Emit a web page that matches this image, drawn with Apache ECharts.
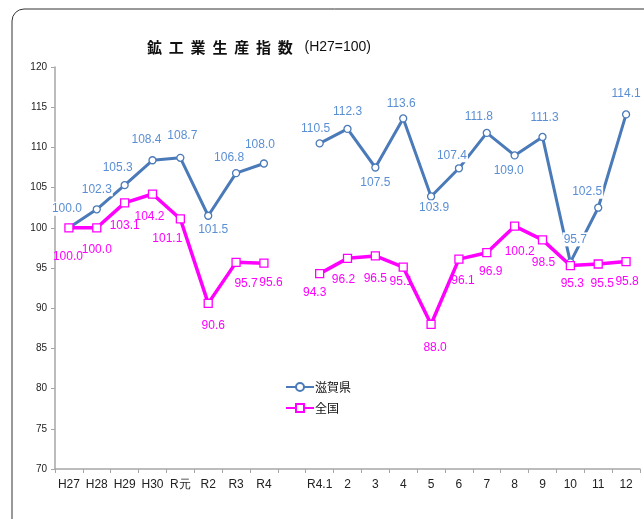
<!DOCTYPE html>
<html>
<head>
<meta charset="utf-8">
<script src="https://cdn.jsdelivr.net/npm/echarts@6/dist/echarts.min.js"></script>
<style>html,body{margin:0;padding:0;background:#fff;}#c{width:644px;height:519px;}</style>
</head>
<body>
<div id="c"></div>
<script>
var categories = ['H27','H28','H29','H30','R元','R2','R3','R4','','R4.1','2','3','4','5','6','7','8','9','10','11','12'];
var shigaValues = [100.0,102.3,105.3,108.4,108.7,101.5,106.8,108.0,null,110.5,112.3,107.5,113.6,103.9,107.4,111.8,109.0,111.3,95.7,102.5,114.1];
var zenkokuValues = [100.0,100.0,103.1,104.2,101.1,90.6,95.7,95.6,null,94.3,96.2,96.5,95.1,88.0,96.1,96.9,100.2,98.5,95.3,95.5,95.8];
var yTicks = {min:70, max:120, interval:5};

// label offsets (style only)
var shigaOffsets = [[-2,-19],[0,-20],[-7,-18],[-6,-21],[2,-22],[5,14],[-7,-15],[-4,-19],null,[-4,-15],[0,-17],[0,15],[-2,-15],[3,11],[-7,-13],[-8,-16],[-6,15],[2,-19],[5,-23],[-11,-16],[0,-21]];
var zenkokuOffsets = [[-1,29],[0,22],[0,23],[-3,23],[-13,20],[5,22],[10,21],[7,20],null,[-5,19],[-4,21],[0,23],[-2,14],[4,23],[4,22],[4,19],[5,25],[1,23],[2,18],[4,20],[1,20]];

var labelFont = "'Liberation Sans Narrow','Liberation Sans',Arial,sans-serif";

function buildData(vals, offs, color, bg) {
  return vals.map(function(v, i) {
    if (v == null) return null;
    var lab = {show:true, position:'inside', offset: offs[i], color: color,
      fontSize: 12, fontFamily: labelFont, align:'center', verticalAlign:'middle',
      formatter: function(p){ return p.value.toFixed(1); }};
    if (bg) { lab.backgroundColor = '#fff'; lab.padding = [1,1]; }
    return {value: v, label: lab};
  });
}

var chart = echarts.init(document.getElementById('c'), null, {renderer:'canvas'});
chart.setOption({
  animation: false,
  backgroundColor: '#fff',
  graphic: [{
    type:'rect', shape:{x:12, y:9, width:700, height:525, r:12},
    style:{fill:'none', stroke:'#333', lineWidth:1}, z:-1
  }],
  title: {
    text: '{a|鉱  工  業  生  産  指  数}{b|   (H27=100)}',
    left: 254, top: 35, textAlign: 'center',
    textStyle: {
      rich: {
        a: {fontSize: 15, fontWeight: 'bold', color: '#111', fontFamily: "'Noto Sans CJK JP', sans-serif"},
        b: {fontSize: 14, fontWeight: 'normal', color: '#111', fontFamily: "'Liberation Sans', Arial, sans-serif"}
      }
    }
  },
  legend: {
    orient: 'vertical', left: 280, top: 376, itemWidth: 28, itemHeight: 10, itemGap: 9,
    textStyle: {fontSize: 12, color: '#111', fontFamily: "'Noto Sans CJK JP', sans-serif", padding:[0,0,0,-4]},
    data: ['滋賀県','全国']
  },
  grid: {left: 55, right: 4, top: 67, bottom: 50},
  xAxis: {
    type: 'category', data: categories, boundaryGap: true,
    axisLine: {lineStyle: {color: '#a6a6a6', width: 1.5}},
    axisTick: {show: true, length: 4, lineStyle: {color: '#a6a6a6'}},
    axisLabel: {color: '#222', fontSize: 12, fontFamily: labelFont, margin: 10, interval: 0}
  },
  yAxis: {
    type: 'value', min: yTicks.min, max: yTicks.max, interval: yTicks.interval,
    axisLine: {show: true, lineStyle: {color: '#a6a6a6', width: 1.5}},
    axisTick: {show: true, length: 4, lineStyle: {color: '#a6a6a6'}},
    splitLine: {show: false},
    axisLabel: {color: '#222', fontSize: 10, fontFamily: labelFont, margin: 8}
  },
  series: [
    {
      name: '滋賀県', type: 'line', data: buildData(shigaValues, shigaOffsets, '#5b8fd4', true),
      connectNulls: false, symbol: 'circle', symbolSize: 7,
      lineStyle: {color: '#4a7ab8', width: 3},
      itemStyle: {color: '#fff', borderColor: '#4a7ab8', borderWidth: 1.3},
      z: 2
    },
    {
      name: '全国', type: 'line', data: buildData(zenkokuValues, zenkokuOffsets, '#ff00ff', false),
      connectNulls: false, symbol: 'rect', symbolSize: 8,
      lineStyle: {color: '#ff00ff', width: 3.5},
      itemStyle: {color: '#fff', borderColor: '#ff00ff', borderWidth: 1.3},
      z: 3
    }
  ]
});
</script>
</body>
</html>
